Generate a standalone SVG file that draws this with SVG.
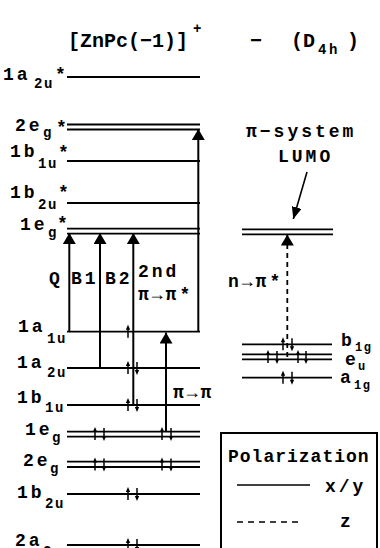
<svg xmlns="http://www.w3.org/2000/svg" width="380" height="548" viewBox="0 0 380 548">
<defs>
<style>
text{font-family:"Liberation Mono","DejaVu Sans Mono",monospace;font-weight:bold;fill:#000}
.t{font-size:20px}
.ts{font-size:14px;letter-spacing:2.5px}
.m{font-size:18px;letter-spacing:3px}
.s{font-size:14px;letter-spacing:1.5px}
.rs{font-size:12px;letter-spacing:1.5px}
.lv{stroke:#000;stroke-width:1.8;fill:none}
.tr{stroke:#000;stroke-width:2;fill:none;marker-end:url(#ah)}
.dz{stroke:#000;stroke-width:1.8;fill:none;stroke-dasharray:5 4;marker-end:url(#ah)}
.el line{stroke:#000;stroke-width:1.5}
.el path{fill:#000}
</style>
<marker id="ah" viewBox="0 0 11 13" refX="11" refY="6.5" markerWidth="11" markerHeight="13" orient="auto" markerUnits="userSpaceOnUse">
<path d="M0,0 L11,6.5 L0,13 z" fill="#000"/>
</marker>
<marker id="ah2" viewBox="0 0 12 10" refX="12" refY="5" markerWidth="12" markerHeight="10" orient="auto" markerUnits="userSpaceOnUse">
<path d="M0,0 L12,5 L0,10 z" fill="#000"/>
</marker>
<g id="up" class="el"><line x1="0" y1="6" x2="0" y2="-3"/><path d="M-2.2,-2 L2.2,-2 L0,-7 z"/></g>
<g id="dn" class="el"><line x1="0" y1="-6" x2="0" y2="3"/><path d="M-2.2,2 L2.2,2 L0,7 z"/></g>
</defs>
<rect width="380" height="548" fill="#fff"/>

<g id="title">
<text class="t" x="68" y="47">[ZnPc(−1)]</text>
<text class="s" x="193" y="33">+</text>
<text class="t" x="250" y="47">−</text>
<text class="t" x="291" y="47">(D</text>
<text class="ts" x="318" y="54">4h</text>
<text class="t" x="347" y="47">)</text>
</g>

<g id="lvl-1a2u-star">
<line class="lv" x1="67" y1="77" x2="200" y2="77"/>
<text class="m" x="3" y="80">1a</text><text class="s" x="34" y="88">2u</text><text class="m" x="55" y="80">*</text>
</g>
<g id="lvl-2eg-star">
<line class="lv" x1="67" y1="124.5" x2="200" y2="124.5"/>
<line class="lv" x1="67" y1="129.5" x2="200" y2="129.5"/>
<text class="m" x="15" y="131">2e</text><text class="s" x="43" y="137">g</text><text class="m" x="56" y="133">*</text>
</g>
<g id="lvl-1b1u-star">
<line class="lv" x1="67" y1="161" x2="200" y2="161"/>
<text class="m" x="10" y="157">1b</text><text class="s" x="38" y="168">1u</text><text class="m" x="58" y="158">*</text>
</g>
<g id="lvl-1b2u-star">
<line class="lv" x1="67" y1="203" x2="200" y2="203"/>
<text class="m" x="10" y="198">1b</text><text class="s" x="38" y="209">2u</text><text class="m" x="58" y="198">*</text>
</g>
<g id="lvl-1eg-star">
<line class="lv" x1="67" y1="228.7" x2="200" y2="228.7"/>
<line class="lv" x1="67" y1="233.7" x2="200" y2="233.7"/>
<text class="m" x="20" y="230">1e</text><text class="s" x="48" y="237">g</text><text class="m" x="57" y="229">*</text>
</g>
<g id="lvl-1a1u">
<line class="lv" x1="67" y1="331.7" x2="200" y2="331.7"/>
<text class="m" x="18" y="332">1a</text><text class="s" x="47" y="343">1u</text>
<use href="#up" x="128" y="331.7"/>
</g>
<g id="lvl-1a2u">
<line class="lv" x1="67" y1="368" x2="200" y2="368"/>
<text class="m" x="17" y="368">1a</text><text class="s" x="47" y="377">2u</text>
<use href="#up" x="128" y="368"/><use href="#dn" x="137" y="368"/>
</g>
<g id="lvl-1b1u">
<line class="lv" x1="67" y1="405" x2="200" y2="405"/>
<text class="m" x="17" y="403">1b</text><text class="s" x="45" y="412">1u</text>
<use href="#up" x="128" y="405"/><use href="#dn" x="137" y="405"/>
</g>
<g id="lvl-1eg">
<line class="lv" x1="67" y1="431.7" x2="200" y2="431.7"/>
<line class="lv" x1="67" y1="436.7" x2="200" y2="436.7"/>
<text class="m" x="25" y="435">1e</text><text class="s" x="52" y="442">g</text>
<use href="#up" x="95" y="434"/><use href="#dn" x="104" y="434"/>
<use href="#up" x="162" y="434"/><use href="#dn" x="171" y="434"/>
</g>
<g id="lvl-2eg">
<line class="lv" x1="67" y1="461.7" x2="200" y2="461.7"/>
<line class="lv" x1="67" y1="467" x2="200" y2="467"/>
<text class="m" x="23" y="466">2e</text><text class="s" x="50" y="473">g</text>
<use href="#up" x="95" y="464.5"/><use href="#dn" x="104" y="464.5"/>
<use href="#up" x="162" y="464.5"/><use href="#dn" x="171" y="464.5"/>
</g>
<g id="lvl-1b2u">
<line class="lv" x1="67" y1="494" x2="200" y2="494"/>
<text class="m" x="17" y="498">1b</text><text class="s" x="45" y="508">2u</text>
<use href="#up" x="128" y="494"/><use href="#dn" x="137" y="494"/>
</g>
<g id="lvl-2a2u">
<line class="lv" x1="67" y1="545" x2="200" y2="545"/>
<text class="m" x="15" y="546">2a</text><text class="s" x="43" y="556">2u</text>
<use href="#up" x="128" y="545"/><use href="#dn" x="137" y="545"/>
</g>

<g id="lvl-lumo">
<line class="lv" x1="242" y1="229.3" x2="333" y2="229.3"/>
<line class="lv" x1="242" y1="234.3" x2="333" y2="234.3"/>
</g>
<g id="lvl-b1g">
<line class="lv" x1="242" y1="344.3" x2="332" y2="344.3"/>
<text class="m" x="341" y="346">b</text><text class="rs" x="355" y="351">1g</text>
<use href="#up" x="283" y="344.3"/><use href="#dn" x="292" y="344.3"/>
</g>
<g id="lvl-eu">
<line class="lv" x1="242" y1="354.3" x2="332" y2="354.3"/>
<line class="lv" x1="242" y1="359.3" x2="332" y2="359.3"/>
<text class="m" x="345" y="365">e</text><text class="rs" x="358" y="370">u</text>
<use href="#up" x="268" y="357"/><use href="#dn" x="277" y="357"/>
<use href="#up" x="298" y="357"/><use href="#dn" x="306" y="357"/>
</g>
<g id="lvl-a1g">
<line class="lv" x1="242" y1="377.7" x2="332" y2="377.7"/>
<text class="m" x="340" y="383">a</text><text class="rs" x="354" y="389">1g</text>
<use href="#up" x="283" y="377.7"/><use href="#dn" x="292" y="377.7"/>
</g>

<g id="lumo-label">
<text class="m" x="246" y="137">π−system</text>
<text class="m" x="278" y="162">LUMO</text>
</g>

<g id="connectors">
<line class="tr" x1="69.3" y1="331.7" x2="69.3" y2="233"/>
<line class="tr" x1="100" y1="368" x2="100" y2="233"/>
<line class="tr" x1="133.3" y1="405" x2="133.3" y2="233"/>
<line class="tr" x1="198.3" y1="331.7" x2="198.3" y2="129"/>
<line class="tr" x1="166" y1="431.7" x2="166" y2="332.5"/>
<line class="dz" x1="287.3" y1="357" x2="287.3" y2="234.5"/>
<line stroke="#000" stroke-width="1.6" marker-end="url(#ah2)" x1="307" y1="172" x2="293.3" y2="219"/>
<text class="m" x="49" y="284">Q</text>
<text class="m" x="71" y="284">B1</text>
<text class="m" x="105" y="284">B2</text>
<text class="m" x="138" y="277">2nd</text>
<text class="m" x="138" y="300">π→π*</text>
<text class="m" x="173" y="398">π→π</text>
<text class="m" x="228" y="287">n→π*</text>
</g>

<g id="legend">
<rect x="221" y="433" width="156" height="140" fill="none" stroke="#000" stroke-width="2"/>
<text class="m" x="228" y="462" style="letter-spacing:1px">Polarization</text>
<line stroke="#000" stroke-width="1.6" x1="237" y1="485" x2="310" y2="485"/>
<text class="m" x="325" y="492">x/y</text>
<line stroke="#000" stroke-width="1.6" stroke-dasharray="6 5" x1="237" y1="522" x2="302" y2="522"/>
<text class="m" x="340" y="527">z</text>
</g>
</svg>
